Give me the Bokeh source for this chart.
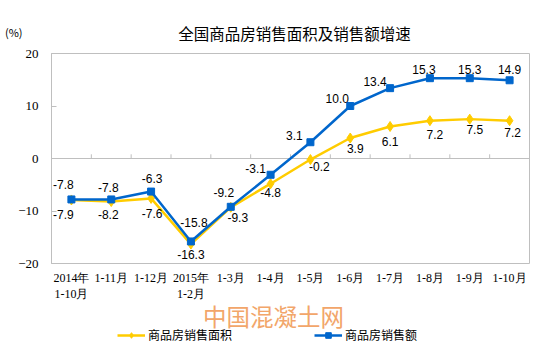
from bokeh.plotting import figure
from bokeh.models import (Range1d, FixedTicker, Label, Legend, LegendItem,
                          ColumnDataSource, LabelSet, LinearAxis)
from bokeh.core.properties import value
from bokeh.layouts import column
from bokeh.embed import file_html
from bokeh.resources import INLINE

categories = ["2014年\n1-10月", "1-11月", "1-12月", "2015年\n1-2月", "1-3月", "1-4月",
              "1-5月", "1-6月", "1-7月", "1-8月", "1-9月", "1-10月"]
area_growth = [-7.9, -8.2, -7.6, -16.3, -9.3, -4.8, -0.2, 3.9, 6.1, 7.2, 7.5, 7.2]
sales_growth = [-7.8, -7.8, -6.3, -15.8, -9.2, -3.1, 3.1, 10.0, 13.4, 15.3, 15.3, 14.9]
y_ticks = [-20, -10, 0, 10, 20]

# label placement (screen pixel offsets, layout only)
sales_lbl_dx = [-8, -3, 1, 3, -7, -15, -16, -13, -15, -6, 0, 0]
sales_lbl_dy = [15, 12, 13, 19, 14, 6, 7, 8, 7, 9, 9, 11]
area_lbl_dx = [-8, -3, 1, 0, 7, 0, 9, 5, 0, 5, 5, 3]
area_lbl_dy = [-15, -13, -15, -10, -10, -9, -7, -10, -15, -14, -10, -12]

YELLOW = "#FFCC00"
BLUE = "#0066CC"
GRID = "#BFBFBF"
FONT = "Liberation Sans"
SERIF = "Liberation Serif"
CJK = "Noto Sans CJK SC"
W = 544
BL, BR = 51, 15


def blank(height):
    f = figure(width=W, height=height, output_backend="svg", toolbar_location=None,
               x_axis_type=None, y_axis_type=None, x_range=Range1d(0, 1), y_range=Range1d(0, 1),
               min_border_left=BL, min_border_right=BR, min_border_top=0, min_border_bottom=0)
    f.outline_line_color = None
    f.grid.visible = False
    return f


xs = list(range(len(categories)))

# ---------- header: title + unit ----------
head = blank(45)
unit_axis = LinearAxis(ticker=FixedTicker(ticks=[0.31]), major_label_overrides={0.31: "(%)"},
                       axis_line_color=None, major_tick_line_color=None,
                       minor_tick_line_color=None, major_label_standoff=23,
                       major_label_text_font=CJK, major_label_text_font_size="11px",
                       major_label_text_color="#000000")
head.add_layout(unit_axis, "left")
head.add_layout(Label(x=243, y=13, x_units="screen", y_units="screen",
                      text="全国商品房销售面积及销售额增速", text_align="center",
                      text_baseline="middle", text_font=CJK, text_font_size="15.5px",
                      text_color="#000000"))

# ---------- main plot ----------
p = figure(frame_width=478, frame_height=210, output_backend="svg", toolbar_location=None,
           x_range=Range1d(-0.5, len(categories) - 0.5), y_range=Range1d(-20, 20),
           min_border_left=BL, min_border_right=BR, min_border_top=8, min_border_bottom=0)
p.grid.visible = False
p.outline_line_color = GRID
p.outline_line_width = 1

ya = p.yaxis[0]
ya.ticker = FixedTicker(ticks=y_ticks)
ya.axis_line_color = GRID
ya.major_tick_line_color = GRID
ya.major_tick_in = 5
ya.major_tick_out = 0
ya.minor_tick_line_color = None
ya.major_label_text_font = SERIF
ya.major_label_text_font_size = "13px"
ya.major_label_text_color = "#000000"
ya.major_label_standoff = 13

xa = p.xaxis[0]
xa.ticker = FixedTicker(ticks=xs)
xa.major_label_overrides = {i: c for i, c in zip(xs, categories)}
xa.axis_line_color = None
xa.major_tick_line_color = None
xa.minor_tick_line_color = None
xa.major_tick_in = 0
xa.major_tick_out = 0
xa.minor_tick_in = 0
xa.minor_tick_out = 0
xa.major_label_text_font = SERIF
xa.major_label_text_font_size = "12px"
xa.major_label_text_color = "#000000"
xa.major_label_text_line_height = 1.15
xa.major_label_standoff = 7

# zero line with category boundary ticks
p.segment(x0=[-0.5], y0=[0], x1=[len(categories) - 0.5], y1=[0], line_color=GRID, line_width=1)
bx = [i + 0.5 for i in xs[:-1]]
p.segment(x0=bx, y0=[0] * len(bx), x1=bx, y1=[0.8] * len(bx), line_color=GRID, line_width=1)

p.line(xs, area_growth, line_color=YELLOW, line_width=2.5)
p.scatter(xs, area_growth, marker="diamond", size=10, fill_color=YELLOW, line_color=YELLOW)
p.line(xs, sales_growth, line_color=BLUE, line_width=2.5)
p.scatter(xs, sales_growth, marker="square", size=7, fill_color=BLUE, line_color=BLUE)

src_s = ColumnDataSource(dict(x=xs, y=sales_growth, t=["%.1f" % v for v in sales_growth],
                              dx=sales_lbl_dx, dy=sales_lbl_dy))
src_a = ColumnDataSource(dict(x=xs, y=area_growth, t=["%.1f" % v for v in area_growth],
                              dx=area_lbl_dx, dy=area_lbl_dy))
for src in (src_s, src_a):
    p.add_layout(LabelSet(x="x", y="y", text="t", source=src, x_offset="dx", y_offset="dy",
                          text_align="center", text_baseline="middle",
                          text_font=value(FONT), text_font_size=value("12px"),
                          text_color=value("#000000")))

# ---------- footer: watermark + legend ----------
foot = blank(51)
foot.add_layout(Label(x=222, y=39, x_units="screen", y_units="screen", text="中国混凝土网",
                      text_align="center", text_baseline="middle", text_font=CJK,
                      text_font_size="23.5px", text_color="#F2A66A"))
nan = [float("nan")]
la = foot.line(nan, nan, line_color=YELLOW, line_width=2.5)
ma = foot.scatter(nan, nan, marker="diamond", size=9, fill_color=YELLOW, line_color=YELLOW)
ls = foot.line(nan, nan, line_color=BLUE, line_width=2.5)
ms = foot.scatter(nan, nan, marker="square", size=7, fill_color=BLUE, line_color=BLUE)
legend = Legend(items=[LegendItem(label="商品房销售面积", renderers=[la, ma]),
                       LegendItem(label="商品房销售额", renderers=[ls, ms])],
                orientation="horizontal", location=(66, 11), spacing=82,
                glyph_width=28, glyph_height=14, label_standoff=3, padding=0, margin=0,
                border_line_color=None, background_fill_alpha=0,
                label_text_font=CJK, label_text_font_size="12px", label_text_color="#000000",
                label_height=14)
foot.add_layout(legend, "center")

layout = column(head, p, foot, spacing=0)
open("out.html", "w").write(file_html(layout, INLINE))
